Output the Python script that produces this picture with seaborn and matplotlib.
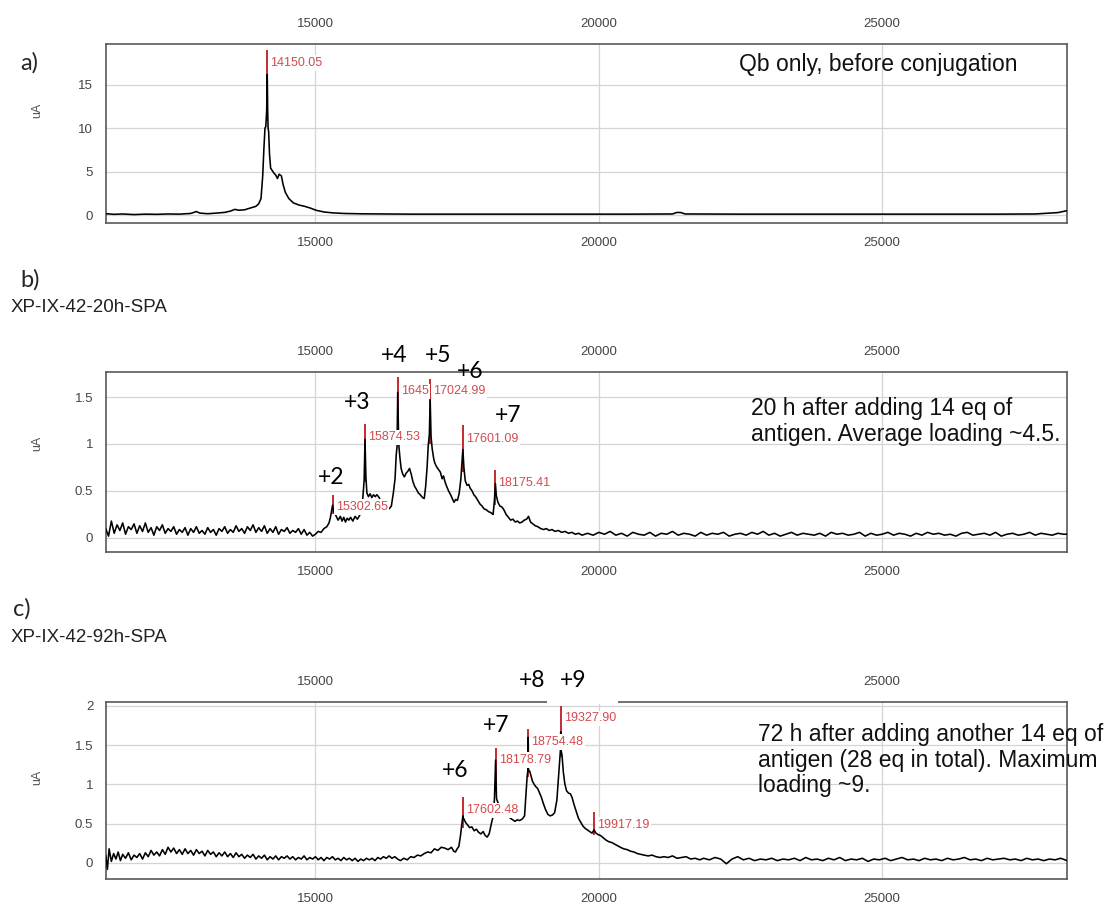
import matplotlib
matplotlib.use("Agg")
import matplotlib.pyplot as plt
import seaborn as sns
import pandas as pd
from matplotlib.patches import Rectangle
from matplotlib.ticker import FixedLocator, FuncFormatter

# ---------------- data ----------------
X_RANGE = (11300, 28260)
X_TICKS = [15000, 20000, 25000]

# panel a trace (mass, uA)
a_trace = [
    (11300, 0.15), (11450, 0.08), (11600, 0.12), (11800, 0.05), (12000, 0.10), (12200, 0.08),
    (12400, 0.12), (12600, 0.10), (12800, 0.18), (12900, 0.40), (12960, 0.22), (13100, 0.15),
    (13250, 0.22), (13400, 0.30), (13500, 0.45), (13580, 0.65), (13650, 0.55), (13750, 0.60),
    (13850, 0.80), (13950, 1.00), (14000, 1.30), (14040, 1.90), (14070, 4.50), (14090, 7.50),
    (14110, 10.0), (14125, 10.2), (14140, 12.0), (14150, 16.2), (14158, 12.0), (14165, 10.0),
    (14175, 9.6), (14190, 7.0), (14210, 5.4), (14240, 5.1), (14270, 4.8), (14300, 4.6),
    (14330, 4.2), (14360, 4.7), (14400, 4.5), (14430, 3.5), (14470, 2.6), (14530, 1.9),
    (14610, 1.4), (14710, 1.15), (14810, 1.0), (14910, 0.8), (15010, 0.55), (15150, 0.35),
    (15300, 0.25), (15500, 0.18), (15800, 0.14), (16200, 0.12), (16700, 0.10), (17500, 0.10),
    (18500, 0.10), (19500, 0.10), (20500, 0.10), (21300, 0.12), (21380, 0.30), (21450, 0.28),
    (21520, 0.12), (22500, 0.10), (24000, 0.10), (25500, 0.10), (27000, 0.10), (27700, 0.12),
    (27900, 0.20), (28100, 0.28), (28260, 0.50),
]

# panel b trace
b_trace = [
    (11300, 0.10), (11350, 0.02), (11400, 0.18), (11450, 0.05), (11500, 0.14), (11550, 0.08),
    (11600, 0.16), (11650, 0.04), (11700, 0.12), (11750, 0.09), (11800, 0.15), (11850, 0.05),
    (11900, 0.13), (11950, 0.07), (12000, 0.16), (12050, 0.06), (12100, 0.11), (12150, 0.03),
    (12200, 0.12), (12250, 0.08), (12300, 0.14), (12350, 0.05), (12400, 0.10), (12450, 0.07),
    (12500, 0.12), (12550, 0.04), (12600, 0.09), (12650, 0.06), (12700, 0.11), (12750, 0.03),
    (12800, 0.10), (12850, 0.06), (12900, 0.12), (12950, 0.05), (13000, 0.08), (13050, 0.04),
    (13100, 0.11), (13150, 0.06), (13200, 0.09), (13250, 0.03), (13300, 0.10), (13350, 0.07),
    (13400, 0.12), (13450, 0.05), (13500, 0.09), (13550, 0.06), (13600, 0.13), (13650, 0.07),
    (13700, 0.10), (13750, 0.05), (13800, 0.12), (13850, 0.08), (13900, 0.14), (13950, 0.06),
    (14000, 0.11), (14050, 0.07), (14100, 0.13), (14150, 0.05), (14200, 0.10), (14250, 0.06),
    (14300, 0.12), (14350, 0.04), (14400, 0.09), (14450, 0.07), (14500, 0.11), (14550, 0.05),
    (14600, 0.08), (14650, 0.06), (14700, 0.10), (14750, 0.04), (14800, 0.09), (14850, 0.03),
    (14900, 0.06), (14950, 0.02),
    (15000, 0.04), (15050, 0.07), (15100, 0.06), (15150, 0.10), (15200, 0.12), (15240, 0.16),
    (15265, 0.22), (15285, 0.29), (15303, 0.35), (15325, 0.28), (15360, 0.24), (15400, 0.19),
    (15440, 0.23), (15470, 0.18), (15500, 0.22), (15530, 0.17), (15560, 0.21), (15590, 0.19),
    (15620, 0.22), (15660, 0.18), (15700, 0.23), (15740, 0.20), (15780, 0.24), (15815, 0.30),
    (15837, 0.43), (15860, 0.62), (15875, 1.05), (15890, 0.66), (15908, 0.48), (15935, 0.44),
    (15965, 0.47), (15995, 0.43), (16025, 0.46), (16055, 0.44), (16085, 0.46), (16125, 0.43),
    (16150, 0.39), (16200, 0.36), (16250, 0.33), (16300, 0.31), (16340, 0.34), (16375, 0.48),
    (16405, 0.63), (16425, 0.88), (16440, 0.97), (16452, 1.55), (16470, 1.00), (16490, 0.86),
    (16512, 0.74), (16540, 0.68), (16570, 0.65), (16600, 0.69), (16630, 0.71), (16660, 0.74),
    (16690, 0.68), (16720, 0.60), (16750, 0.55), (16780, 0.52), (16815, 0.48), (16850, 0.46),
    (16890, 0.43), (16920, 0.42), (16945, 0.55), (16970, 0.75), (16990, 0.98), (17010, 1.10),
    (17025, 1.47), (17040, 1.08), (17060, 0.95), (17085, 0.85), (17105, 0.80), (17135, 0.76),
    (17170, 0.73), (17205, 0.70), (17235, 0.63), (17260, 0.66), (17285, 0.60), (17315, 0.55),
    (17350, 0.50), (17385, 0.46), (17415, 0.42), (17445, 0.38), (17475, 0.41), (17505, 0.40),
    (17535, 0.47), (17565, 0.62), (17585, 0.80), (17601, 0.94), (17620, 0.75), (17643, 0.61),
    (17675, 0.56), (17705, 0.57), (17730, 0.53), (17765, 0.50), (17795, 0.46), (17825, 0.44),
    (17865, 0.40), (17905, 0.36), (17940, 0.34), (17975, 0.31), (18015, 0.30), (18055, 0.28),
    (18095, 0.27), (18135, 0.25), (18158, 0.40), (18175, 0.58), (18192, 0.45), (18220, 0.38),
    (18255, 0.34), (18290, 0.33), (18325, 0.30), (18365, 0.25), (18405, 0.22), (18445, 0.19),
    (18485, 0.20), (18525, 0.17), (18565, 0.18), (18605, 0.16), (18645, 0.17), (18685, 0.19),
    (18725, 0.20), (18760, 0.23), (18795, 0.17), (18835, 0.15), (18878, 0.13), (18925, 0.12),
    (18975, 0.10), (19025, 0.09), (19075, 0.10), (19125, 0.08), (19175, 0.09), (19225, 0.07),
    (19285, 0.08), (19345, 0.06), (19405, 0.07), (19465, 0.05), (19525, 0.06), (19585, 0.04),
    (19645, 0.05), (19705, 0.03),
    (19800, 0.05), (19900, 0.03), (20000, 0.06), (20100, 0.04), (20200, 0.07), (20300, 0.03),
    (20400, 0.05), (20500, 0.02), (20600, 0.06), (20700, 0.04), (20800, 0.03), (20900, 0.06),
    (21000, 0.02), (21100, 0.05), (21200, 0.04), (21300, 0.07), (21400, 0.03), (21500, 0.05),
    (21600, 0.04), (21700, 0.02), (21800, 0.06), (21900, 0.03), (22000, 0.05), (22100, 0.04),
    (22200, 0.06), (22300, 0.02), (22400, 0.04), (22500, 0.05), (22600, 0.03), (22700, 0.06),
    (22800, 0.04), (22900, 0.07), (23000, 0.03), (23100, 0.05), (23200, 0.02), (23300, 0.04),
    (23400, 0.06), (23500, 0.03), (23600, 0.05), (23700, 0.04), (23800, 0.03), (23900, 0.05),
    (24000, 0.02), (24100, 0.06), (24200, 0.04), (24300, 0.05), (24400, 0.03), (24500, 0.04),
    (24600, 0.06), (24700, 0.02), (24800, 0.05), (24900, 0.03), (25000, 0.04), (25100, 0.06),
    (25200, 0.03), (25300, 0.05), (25400, 0.04), (25500, 0.02), (25600, 0.05), (25700, 0.03),
    (25800, 0.06), (25900, 0.04), (26000, 0.05), (26100, 0.03), (26200, 0.04), (26300, 0.02),
    (26400, 0.05), (26500, 0.06), (26600, 0.03), (26700, 0.04), (26800, 0.05), (26900, 0.03),
    (27000, 0.06), (27100, 0.02), (27200, 0.04), (27300, 0.05), (27400, 0.03), (27500, 0.04),
    (27600, 0.06), (27700, 0.03), (27800, 0.05), (27900, 0.04), (28000, 0.03), (28100, 0.05),
    (28200, 0.04), (28260, 0.04),
]

# panel c trace
c_trace = [
    (11300, 0.10), (11330, -0.08), (11360, 0.18), (11400, 0.02), (11440, 0.12), (11480, 0.05),
    (11520, 0.14), (11560, 0.03), (11600, 0.11), (11650, 0.06), (11700, 0.13), (11750, 0.04),
    (11800, 0.10), (11850, 0.07), (11900, 0.12), (11950, 0.05), (12000, 0.13), (12050, 0.08),
    (12100, 0.16), (12150, 0.10), (12200, 0.14), (12250, 0.09), (12300, 0.17), (12350, 0.11),
    (12400, 0.20), (12450, 0.14), (12500, 0.19), (12550, 0.12), (12600, 0.17), (12650, 0.11),
    (12700, 0.18), (12750, 0.12), (12800, 0.16), (12850, 0.10), (12900, 0.17), (12950, 0.12),
    (13000, 0.15), (13050, 0.09), (13100, 0.16), (13150, 0.11), (13200, 0.14), (13250, 0.08),
    (13300, 0.13), (13350, 0.09), (13400, 0.14), (13450, 0.08), (13500, 0.12), (13550, 0.07),
    (13600, 0.13), (13650, 0.08), (13700, 0.11), (13750, 0.06), (13800, 0.10), (13850, 0.07),
    (13900, 0.11), (13950, 0.05), (14000, 0.09), (14050, 0.06), (14100, 0.10), (14150, 0.04),
    (14200, 0.08), (14250, 0.05), (14300, 0.09), (14350, 0.04), (14400, 0.08), (14450, 0.06),
    (14500, 0.09), (14550, 0.05), (14600, 0.08), (14650, 0.04), (14700, 0.07), (14750, 0.05),
    (14800, 0.09), (14850, 0.04), (14900, 0.07), (14950, 0.05), (15000, 0.08), (15050, 0.04),
    (15100, 0.07), (15150, 0.03), (15200, 0.07), (15250, 0.05), (15300, 0.08), (15350, 0.04),
    (15400, 0.06), (15450, 0.03), (15500, 0.07), (15550, 0.04), (15600, 0.06), (15650, 0.03),
    (15700, 0.06), (15750, 0.02), (15800, 0.05), (15850, 0.03), (15900, 0.06), (15950, 0.04),
    (16000, 0.06), (16050, 0.03), (16100, 0.07), (16150, 0.05), (16200, 0.08), (16250, 0.06),
    (16300, 0.09), (16350, 0.06), (16400, 0.08), (16450, 0.05),
    (16500, 0.03), (16560, 0.06), (16620, 0.04), (16680, 0.08), (16740, 0.07), (16800, 0.10),
    (16860, 0.09), (16920, 0.12), (16980, 0.14), (17040, 0.13), (17100, 0.18), (17160, 0.16),
    (17220, 0.20), (17280, 0.19), (17340, 0.17), (17400, 0.20), (17440, 0.15), (17470, 0.14),
    (17500, 0.18), (17530, 0.21), (17560, 0.35), (17580, 0.48), (17602, 0.60), (17625, 0.55),
    (17655, 0.51), (17690, 0.48), (17720, 0.45), (17760, 0.46), (17800, 0.41), (17840, 0.43),
    (17880, 0.39), (17920, 0.37), (17960, 0.40), (17995, 0.35), (18030, 0.33), (18065, 0.37),
    (18110, 0.52), (18145, 0.62), (18160, 0.85), (18179, 1.31), (18195, 0.82), (18215, 0.78),
    (18240, 0.72), (18280, 0.68), (18320, 0.64), (18360, 0.62), (18400, 0.60), (18440, 0.57),
    (18480, 0.55), (18520, 0.53), (18560, 0.55), (18600, 0.54), (18650, 0.56), (18690, 0.60),
    (18715, 0.88), (18735, 1.10), (18748, 1.18), (18754, 1.60), (18760, 1.18), (18780, 1.17),
    (18800, 1.12), (18830, 1.04), (18860, 1.00), (18890, 0.97), (18920, 0.95), (18950, 0.90),
    (18985, 0.84), (19020, 0.76), (19060, 0.68), (19100, 0.62), (19140, 0.60), (19180, 0.61),
    (19220, 0.64), (19260, 0.80), (19290, 1.10), (19310, 1.30), (19322, 1.43), (19328, 1.67),
    (19334, 1.43), (19350, 1.38), (19375, 1.15), (19400, 1.01), (19430, 0.92), (19465, 0.89),
    (19500, 0.88), (19530, 0.83), (19560, 0.75), (19600, 0.66), (19640, 0.57), (19680, 0.52),
    (19720, 0.47), (19760, 0.44), (19800, 0.42), (19840, 0.40), (19880, 0.38), (19917, 0.42),
    (19950, 0.38), (19990, 0.36), (20030, 0.35), (20080, 0.32), (20130, 0.29), (20180, 0.27),
    (20230, 0.26), (20280, 0.24), (20330, 0.22), (20380, 0.20), (20440, 0.18), (20500, 0.17),
    (20560, 0.15), (20620, 0.14), (20680, 0.12), (20740, 0.11), (20800, 0.10), (20870, 0.09),
    (20940, 0.10), (21010, 0.08), (21080, 0.07), (21150, 0.08), (21220, 0.07), (21300, 0.09),
    (21380, 0.06), (21460, 0.07), (21540, 0.08), (21620, 0.05), (21700, 0.06), (21780, 0.04),
    (21850, 0.06), (21950, 0.04), (22050, 0.07), (22150, 0.05), (22250, -0.01), (22350, 0.05),
    (22450, 0.08), (22550, 0.04), (22650, 0.06), (22750, 0.03), (22850, 0.05), (22950, 0.04),
    (23050, 0.06), (23150, 0.03), (23250, 0.05), (23350, 0.04), (23450, 0.06), (23550, 0.03),
    (23650, 0.07), (23750, 0.04), (23850, 0.05), (23950, 0.03), (24050, 0.06), (24150, 0.04),
    (24250, 0.07), (24350, 0.03), (24450, 0.05), (24550, 0.04), (24650, 0.06), (24750, 0.02),
    (24850, 0.05), (24950, 0.04), (25050, 0.06), (25150, 0.03), (25250, 0.05), (25350, 0.07),
    (25450, 0.04), (25550, 0.05), (25650, 0.03), (25750, 0.06), (25850, 0.04), (25950, 0.05),
    (26050, 0.03), (26150, 0.06), (26250, 0.04), (26350, 0.05), (26450, 0.07), (26550, 0.04),
    (26650, 0.05), (26750, 0.03), (26850, 0.06), (26950, 0.04), (27050, 0.05), (27150, 0.06),
    (27250, 0.04), (27350, 0.05), (27450, 0.03), (27550, 0.06), (27650, 0.04), (27750, 0.05),
    (27850, 0.03), (27950, 0.05), (28050, 0.04), (28150, 0.06), (28260, 0.03),
]

# peak annotations
a_peak_x = [14150.05]
a_peak_labels = ["14150.05"]
a_peak_top = [19.0]
a_peak_bottom = [12.0]
a_peak_text_y = [17.5]

b_peak_x = [15302.65, 15874.53, 16452.0, 17024.99, 17601.09, 18175.41]
b_peak_labels = ["15302.65", "15874.53", "1645", "17024.99", "17601.09", "18175.41"]
b_peak_top = [0.46, 1.21, 1.71, 1.69, 1.20, 0.72]
b_peak_bottom = [0.25, 0.60, 1.00, 1.00, 0.70, 0.35]
b_peak_text_y = [0.33, 1.07, 1.56, 1.56, 1.05, 0.58]

c_peak_x = [17602.48, 18178.79, 18754.48, 19327.90, 19917.19]
c_peak_labels = ["17602.48", "18178.79", "18754.48", "19327.90", "19917.19"]
c_peak_top = [0.84, 1.46, 1.70, 2.00, 0.65]
c_peak_bottom = [0.45, 1.00, 1.10, 1.35, 0.35]
c_peak_text_y = [0.67, 1.31, 1.54, 1.84, 0.49]

# loading (charge) labels
b_charges = ["+2", "+3", "+4", "+5", "+6", "+7"]
b_charge_x = [15272, 15737, 16384, 17160, 17731, 18401]
b_charge_y = [0.64, 1.44, 1.94, 1.94, 1.77, 1.30]

c_charges = ["+6", "+7", "+8", "+9"]
c_charge_x = [17465, 18188, 18822, 19540]
c_charge_y = [1.18, 1.75, 2.32, 2.32]

a_yticks = [0, 5, 10, 15]
b_yticks = [0, 0.5, 1, 1.5]
c_yticks = [0, 0.5, 1, 1.5, 2]

a_note = "Qb only, before conjugation"
b_note = "20 h after adding 14 eq of\nantigen. Average loading ~4.5."
c_note = "72 h after adding another 14 eq of\nantigen (28 eq in total). Maximum\nloading ~9."
b_sample = "XP-IX-42-20h-SPA"
c_sample = "XP-IX-42-92h-SPA"

# ---------------- figure ----------------
sns.set_style("white")
plt.rcParams["font.family"] = ["Liberation Sans", "DejaVu Sans"]

W, H = 1110, 907
fig = plt.figure(figsize=(W / 100, H / 100), dpi=100)


def fx(px):
    return px / W


def fy(py):
    return 1 - py / H


AX_L, AX_R = 105.7, 1067
TICK_COLOR = "#444444"
RED_LINE = "#c62a32"
RED_TEXT = "#d24b4f"
CHARGE_FONT = ["Lato", "DejaVu Sans"]

panels = [
    dict(trace=a_trace, top=44, bottom=223, ylim=(-0.92, 19.7), yticks=a_yticks,
         px=a_peak_x, pl=a_peak_labels, pt=a_peak_top, pb=a_peak_bottom, pty=a_peak_text_y,
         cl=[], cx=[], cy=[], ua_y=110),
    dict(trace=b_trace, top=372, bottom=552, ylim=(-0.149, 1.766), yticks=b_yticks,
         px=b_peak_x, pl=b_peak_labels, pt=b_peak_top, pb=b_peak_bottom, pty=b_peak_text_y,
         cl=b_charges, cx=b_charge_x, cy=b_charge_y, ua_y=443),
    dict(trace=c_trace, top=702, bottom=879, ylim=(-0.204, 2.05), yticks=c_yticks,
         px=c_peak_x, pl=c_peak_labels, pt=c_peak_top, pb=c_peak_bottom, pty=c_peak_text_y,
         cl=c_charges, cx=c_charge_x, cy=c_charge_y, ua_y=777),
]

axes = []
for p in panels:
    ax = fig.add_axes([fx(AX_L), fy(p["bottom"]), fx(AX_R - AX_L), (p["bottom"] - p["top"]) / H])
    df = pd.DataFrame(p["trace"], columns=["mass", "signal"])
    sns.lineplot(data=df, x="mass", y="signal", ax=ax, color="black", linewidth=1.15,
                 estimator=None, sort=False, zorder=3)
    ax.set_xlim(*X_RANGE)
    ax.set_ylim(*p["ylim"])
    ax.set_xlabel("")
    ax.set_ylabel("")
    ax.xaxis.set_major_locator(FixedLocator(X_TICKS))
    ax.yaxis.set_major_locator(FixedLocator(p["yticks"]))
    ax.yaxis.set_major_formatter(FuncFormatter(lambda v, _: f"{v:g}"))
    ax.grid(True, color="#d4d4d4", linewidth=0.9)
    ax.set_axisbelow(True)
    for s in ax.spines.values():
        s.set_visible(True)
        s.set_color("#595959")
        s.set_linewidth(1.2)
    ax.tick_params(axis="x", top=False, bottom=False, labeltop=True, labelbottom=True,
                   length=0, pad=10, labelsize=9.5, labelcolor=TICK_COLOR)
    ax.tick_params(axis="y", left=False, length=0, pad=9, labelsize=9.5, labelcolor=TICK_COLOR)

    # peak markers and labels
    ax.vlines(p["px"], p["pb"], p["pt"], color=RED_LINE, linewidth=1.4, zorder=2)
    for x, lab, ty in zip(p["px"], p["pl"], p["pty"]):
        ax.text(x + 55, ty, lab, color=RED_TEXT, fontsize=9, ha="left", va="center", zorder=4,
                bbox=dict(facecolor="white", edgecolor="none", pad=1.2))

    # charge-state labels
    for lab, x, y in zip(p["cl"], p["cx"], p["cy"]):
        ax.text(x, y, lab, fontsize=16.5, family=CHARGE_FONT, color="black",
                ha="center", va="center", clip_on=False, zorder=6)

    fig.text(fx(37), fy(p["ua_y"]), "uA", rotation=90, fontsize=9, color="#555555",
             ha="center", va="center")
    axes.append(ax)

# panel c: the top "20000" label is hidden behind the "+8 +9" labels in the reference
fig.canvas.draw()
for tick in axes[2].xaxis.get_major_ticks():
    if abs(tick.get_loc() - 20000) < 1:
        tick.label2.set_visible(False)

# white mask behind "+8 +9" in panel c (interrupts the frame top)
mask = Rectangle((fx(547), fy(703.5)), fx(618) - fx(547), fy(690) - fy(703.5),
                 transform=fig.transFigure, facecolor="white", edgecolor="none",
                 zorder=5, clip_on=False)
axes[2].add_artist(mask)

# panel letters and sample names
for txt, x, y in [("a)", 20, 63), ("b)", 20, 280), ("c)", 13, 609)]:
    fig.text(fx(x), fy(y), txt, fontsize=17, family=CHARGE_FONT, ha="left", va="center")
fig.text(fx(11), fy(308), b_sample, fontsize=13.5, color="#222222", ha="left", va="center")
fig.text(fx(11), fy(637), c_sample, fontsize=13.5, color="#222222", ha="left", va="center")

# notes
fig.text(fx(738.6), fy(65), a_note, fontsize=16.5, ha="left", va="center", color="#111111")
fig.text(fx(751), fy(421.5), b_note, fontsize=16.5, ha="left", va="center", linespacing=1.15,
         color="#111111")
fig.text(fx(758), fy(760), c_note, fontsize=16.5, ha="left", va="center", linespacing=1.15,
         color="#111111")

fig.savefig("out.png", dpi=100, facecolor="white")
